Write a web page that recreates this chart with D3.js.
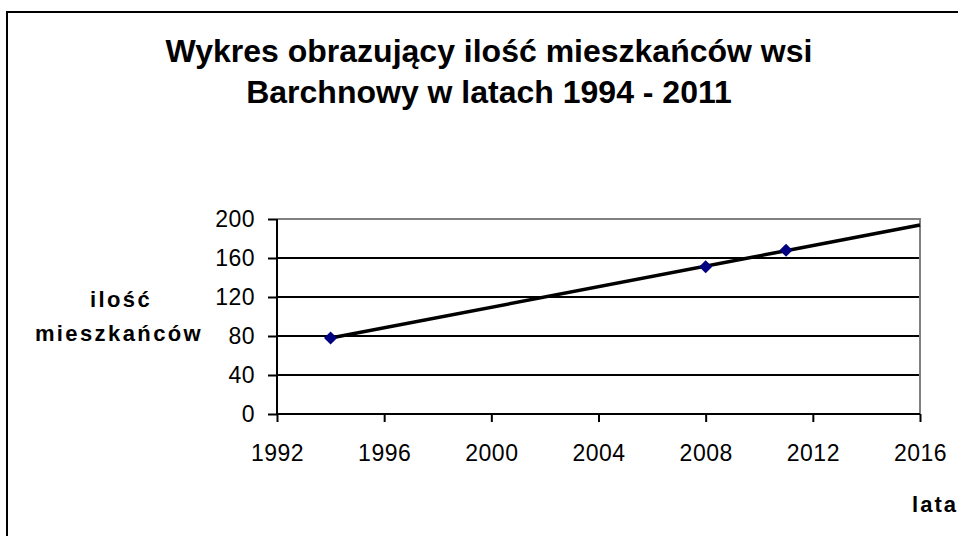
<!DOCTYPE html>
<html>
<head>
<meta charset="utf-8">
<script src="https://cdn.jsdelivr.net/npm/d3@7"></script>
<style>
  body { margin: 0; background: #fff; }
  svg { display: block; font-family: "Liberation Sans", Arial, sans-serif; }
</style>
</head>
<body>
<div id="chart"></div>
<script>
// data
var years = [1994, 2008, 2011];
var residents = [78, 151, 168];
var yTicks = [0, 40, 80, 120, 160, 200];
var xTicks = [1992, 1996, 2000, 2004, 2008, 2012, 2016];
var trendRange = [1994, 2016];
var titleLines = ["Wykres obrazujący ilość mieszkańców wsi", "Barchnowy w latach 1994 - 2011"];
var yLabelLines = ["ilość", "mieszkańców"];
var xLabel = "lata";

var margin = { top: 219, right: 38, bottom: 122, left: 277 },
    width = 958 - margin.left - margin.right,
    height = 536 - margin.top - margin.bottom;

var svg = d3.select("#chart")
  .append("svg")
    .attr("width", 958)
    .attr("height", 536);

// outer frame (runs off the right and bottom edge)
svg.append("rect")
  .attr("x", 7)
  .attr("y", 12)
  .attr("width", 980)
  .attr("height", 560)
  .style("fill", "none")
  .style("stroke", "#000")
  .style("stroke-width", 2);

// title
svg.append("text")
  .attr("x", 489)
  .attr("y", 62)
  .attr("text-anchor", "middle")
  .style("font-size", "32px")
  .style("font-weight", "bold")
  .selectAll("tspan")
  .data(titleLines)
  .enter()
  .append("tspan")
    .attr("x", 489)
    .attr("dy", (d, i) => i ? 41 : 0)
    .text(d => d);

var g = svg.append("g")
  .attr("transform", "translate(" + margin.left + "," + margin.top + ")");

var x = d3.scaleLinear().domain([1992, 2016]).range([0, width]);
var y = d3.scaleLinear().domain([0, 200]).range([height, 0]);

// gridlines
g.selectAll(".grid")
  .data(yTicks.filter(d => d > 0 && d < 200))
  .enter()
  .append("line")
    .attr("x1", 0)
    .attr("x2", width)
    .attr("y1", d => y(d))
    .attr("y2", d => y(d))
    .style("stroke", "#000")
    .style("stroke-width", 2);

// plot area border (top/right, grey)
g.append("path")
  .attr("d", "M0," + y(200) + "H" + x(2016) + "V" + y(0))
  .style("fill", "none")
  .style("stroke", "#808080")
  .style("stroke-width", 2);

// axes
var yAxis = g.append("g")
  .call(d3.axisLeft(y).tickValues(yTicks).tickSize(9).tickPadding(13).tickFormat(d3.format("d")));
var xAxis = g.append("g")
  .attr("transform", "translate(0," + height + ")")
  .call(d3.axisBottom(x).tickValues(xTicks).tickSize(8).tickPadding(23).tickFormat(d3.format("d")));

[yAxis, xAxis].forEach(function (a) {
  a.select(".domain").style("stroke", "#000").style("stroke-width", 2);
  a.selectAll(".tick line").style("stroke", "#000").style("stroke-width", 2);
  a.selectAll(".tick text")
    .style("font-family", "Liberation Sans, Arial, sans-serif")
    .style("font-size", "23px")
    .style("letter-spacing", "0.5px")
    .style("fill", "#000");
});
xAxis.select(".domain").attr("d", "M0,0H" + width);
yAxis.select(".domain").attr("d", "M0," + height + "V0");

// linear trend through the points, drawn over trendRange
var mx = d3.mean(years), my = d3.mean(residents);
var slope = d3.sum(years, (d, i) => (d - mx) * (residents[i] - my)) /
            d3.sum(years, d => (d - mx) * (d - mx));
var intercept = my - slope * mx;

g.append("line")
  .attr("x1", x(trendRange[0]))
  .attr("y1", y(intercept + slope * trendRange[0]))
  .attr("x2", x(trendRange[1]))
  .attr("y2", y(intercept + slope * trendRange[1]))
  .style("stroke", "#000")
  .style("stroke-width", 3.5);

// data points
g.selectAll(".pt")
  .data(years)
  .enter()
  .append("path")
    .attr("d", d3.symbol().type(d3.symbolDiamond2).size(110))
    .attr("transform", (d, i) => "translate(" + x(d) + "," + y(residents[i]) + ")")
    .style("fill", "#000080");

// axis titles
svg.append("text")
  .attr("text-anchor", "middle")
  .style("font-size", "22px")
  .style("font-weight", "bold")
  .style("letter-spacing", "2.4px")
  .selectAll("tspan")
  .data(yLabelLines)
  .enter()
  .append("tspan")
    .attr("x", (d, i) => i ? 119 : 121)
    .attr("y", (d, i) => i ? 341 : 307)
    .text(d => d);

svg.append("text")
  .attr("x", 958)
  .attr("y", 512)
  .attr("text-anchor", "end")
  .style("font-size", "22px")
  .style("font-weight", "bold")
  .style("letter-spacing", "2px")
  .text(xLabel);
</script>
</body>
</html>
